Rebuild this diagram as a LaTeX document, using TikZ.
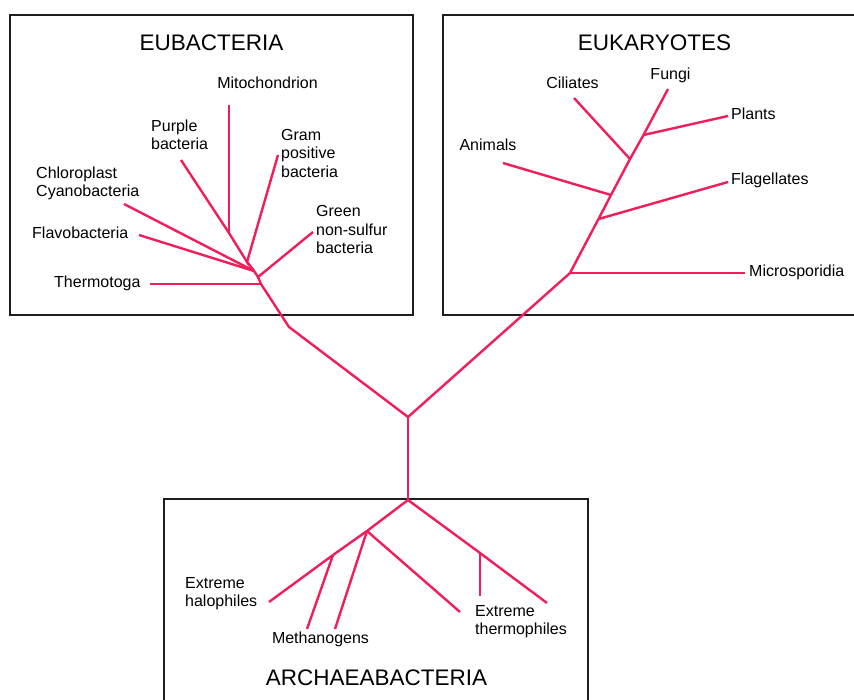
\documentclass[tikz,border=0pt]{standalone}
\usepackage{fontspec}
\setmainfont{Liberation Sans}
\definecolor{branch}{RGB}{240,30,90}
\definecolor{boxline}{RGB}{30,30,30}
\begin{document}
\begin{tikzpicture}[x=1pt,y=-1pt,
  lbl/.style={inner sep=0pt,font=\fontsize{16}{18.5}\selectfont,align=left},
  ttl/.style={inner sep=0pt,font=\fontsize{22.5}{26}\selectfont},
  grp/.style={draw=boxline,line width=1.5pt},
  br/.style={draw=branch,line width=2.4pt,line join=round}]
\useasboundingbox (0,0) rectangle (854,699);
\clip (0,0) rectangle (854,699);
\fill[white] (0,0) rectangle (854,699);
% group boxes
\draw[grp] (10,15) rectangle (413,315);
\draw[grp] (443,15) rectangle (870,315);
\draw[grp] (164,499) rectangle (588,720);
% titles
\node[ttl] (teu) at (211.5,43) {EUBACTERIA};
\node[ttl] (tek) at (654.5,43) {EUKARYOTES};
\node[ttl] (tar) at (376.5,678) {ARCHAEABACTERIA};
% labels
\node[lbl] (mito) at (267.5,83) {Mitochondrion};
\node[lbl,anchor=west] (purp) at (151,135) {Purple\\bacteria};
\node[lbl,anchor=west] (gram) at (281,153) {Gram\\positive\\bacteria};
\node[lbl,anchor=west] (chlo) at (36,183.5) {Chloroplast\\Cyanobacteria};
\node[lbl,anchor=west] (gree) at (316,229.5) {Green\\non-sulfur\\bacteria};
\node[lbl,anchor=west] (flav) at (32,233) {Flavobacteria};
\node[lbl,anchor=west] (ther) at (54,283) {Thermotoga};
\node[lbl] (cili) at (572.5,83) {Ciliates};
\node[lbl] (fung) at (670.5,75) {Fungi};
\node[lbl,anchor=west] (plan) at (731,114) {Plants};
\node[lbl] (anim) at (488,145) {Animals};
\node[lbl,anchor=west] (flag) at (731,180) {Flagellates};
\node[lbl,anchor=west] (micr) at (749,272) {Microsporidia};
\node[lbl,anchor=west] (halo) at (185,593.5) {Extreme\\halophiles};
\node[lbl] (meth) at (320.5,639) {Methanogens};
\node[lbl,anchor=west] (xthe) at (475,621.5) {Extreme\\thermophiles};
% junctions and tips
\coordinate (root) at (408,417);
\coordinate (aroot) at (408,500);
\coordinate (je) at (289,327);
\coordinate (jt) at (261,284);
\coordinate (jg) at (258,277);
\coordinate (jc) at (254,271);
\coordinate (jp) at (247,262);
\coordinate (jm) at (229,233);
\coordinate (emito) at (229,105);
\coordinate (epurp) at (181,160);
\coordinate (egram) at (278,155);
\coordinate (echlo) at (124,204);
\coordinate (eflav) at (139,235);
\coordinate (egree) at (313,232);
\coordinate (ether) at (150,284);
\coordinate (jk) at (570,273);
\coordinate (jfl) at (598.5,219);
\coordinate (jan) at (611,195);
\coordinate (jci) at (630,159);
\coordinate (jpl) at (643.5,135);
\coordinate (efung) at (668,89);
\coordinate (emicr) at (745,273);
\coordinate (eflag) at (728,182);
\coordinate (eanim) at (503,163);
\coordinate (ecili) at (574,98);
\coordinate (eplan) at (728,116);
\coordinate (ja1) at (367,531);
\coordinate (ja2) at (333,555);
\coordinate (ehalo) at (269,602);
\coordinate (emet1) at (307,629);
\coordinate (emet2) at (335,629);
\coordinate (ea3) at (460,612);
\coordinate (jth) at (480,553);
\coordinate (eth1) at (480,596);
\coordinate (eth2) at (547,603);
% central tree
\draw[br] (aroot) -- (root);
\draw[br] (root) -- (je) -- (jt) -- (jg) -- (jc) -- (jp);
\draw[br] (root) -- (jk);
% eubacteria
\draw[br] (jt) -- (ether);
\draw[br] (jg) -- (egree);
\draw[br] (jc) -- (eflav);
\draw[br] (jc) -- (echlo);
\draw[br] (jp) -- (egram);
\draw[br] (jc) -- (jp) -- (jm) -- (epurp);
\draw[br] (jm) -- (emito);
% eukaryotes
\draw[br] (jk) -- (jfl) -- (jan) -- (jci) -- (jpl) -- (efung);
\draw[br] (jk) -- (emicr);
\draw[br] (jfl) -- (eflag);
\draw[br] (jan) -- (eanim);
\draw[br] (jci) -- (ecili);
\draw[br] (jpl) -- (eplan);
% archaea
\draw[br] (aroot) -- (ja1) -- (ja2) -- (ehalo);
\draw[br] (ja2) -- (emet1);
\draw[br] (ja1) -- (emet2);
\draw[br] (ja1) -- (ea3);
\draw[br] (aroot) -- (jth) -- (eth2);
\draw[br] (jth) -- (eth1);
\end{tikzpicture}
\end{document}
